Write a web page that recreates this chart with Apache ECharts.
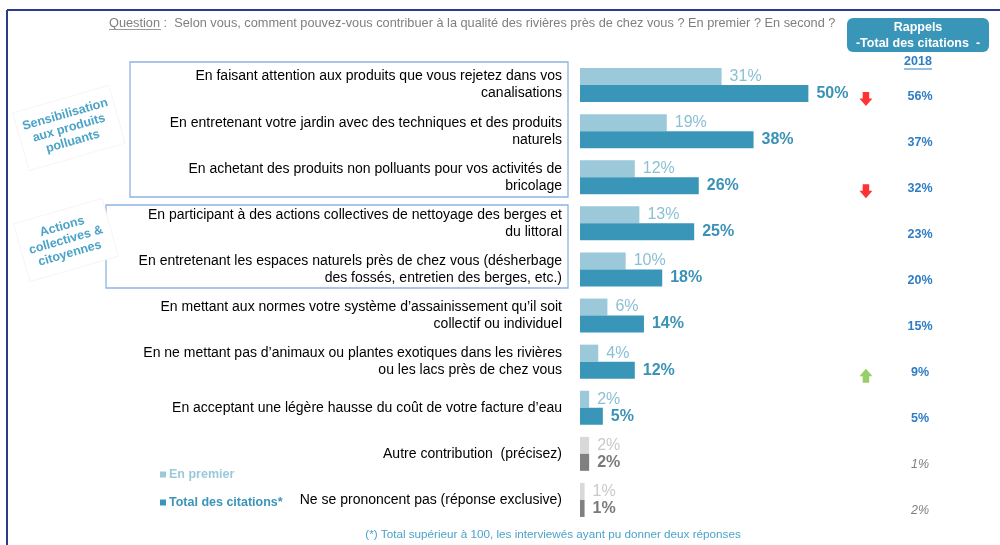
<!DOCTYPE html>
<html>
<head>
<meta charset="utf-8">
<script src="https://cdn.jsdelivr.net/npm/echarts@6/dist/echarts.min.js"></script>
<style>
html,body{margin:0;padding:0;background:#fff;}
#chart{width:1000px;height:545px;}
</style>
</head>
<body>
<div id="chart"></div>
<script>
const categories = [
  "En faisant attention aux produits que vous rejetez dans vos\ncanalisations",
  "En entretenant votre jardin avec des techniques et des produits\nnaturels",
  "En achetant des produits non polluants pour vos activités de\nbricolage",
  "En participant à des actions collectives de nettoyage des berges et\ndu littoral",
  "En entretenant les espaces naturels près de chez vous (désherbage\ndes fossés, entretien des berges, etc.)",
  "En mettant aux normes votre système d’assainissement qu’il soit\ncollectif ou individuel",
  "En ne mettant pas d’animaux ou plantes exotiques dans les rivières\nou les lacs près de chez vous",
  "En acceptant une légère hausse du coût de votre facture d’eau",
  "Autre contribution  (précisez)",
  "Ne se prononcent pas (réponse exclusive)"
];
const enPremier = [31, 19, 12, 13, 10, 6, 4, 2, 2, 1];
const totalCitations = [50, 38, 26, 25, 18, 14, 12, 5, 2, 1];
const rappels2018 = [56, 37, 32, 23, 20, 15, 9, 5, 1, 2];
const trend2018 = ["down", "", "down", "", "", "", "up", "", "", ""];
const otherCategories = ["Autre contribution  (précisez)", "Ne se prononcent pas (réponse exclusive)"];

const FONT = "'Liberation Sans', Arial, sans-serif";
const C_LIGHT = "#9bc9da", C_DARK = "#3a96b9";
const C_LIGHT_TXT = "#8bc0d4", C_DARK_TXT = "#3a92b5";
const G_LIGHT = "#d9d9d9", G_DARK = "#808080";
const isOther = i => otherCategories.indexOf(categories[i]) >= 0;

const premierData = enPremier.map((v, i) => ({
  value: v,
  itemStyle: { color: isOther(i) ? G_LIGHT : C_LIGHT },
  label: { color: isOther(i) ? "#c9c9c9" : C_LIGHT_TXT }
}));
const totalData = totalCitations.map((v, i) => ({
  value: v,
  itemStyle: { color: isOther(i) ? G_DARK : C_DARK },
  label: { color: isOther(i) ? "#7a7a7a" : C_DARK_TXT }
}));

const ARROW_X = 62.6;
const downPath = "path://M3,0 L9,0 L9,6 L12,6 L6,13 L0,6 L3,6 Z";
const upPath = "path://M6,0 L12,7 L9,7 L9,13 L3,13 L3,7 L0,7 Z";
const arrowData = [];
trend2018.forEach((t, i) => {
  if (t) arrowData.push({
    value: [ARROW_X, i],
    symbol: t === "down" ? downPath : upPath,
    itemStyle: { color: t === "down" ? "#ff0000" : "#7dc242" }
  });
});

const chart = echarts.init(document.getElementById("chart"), null, { renderer: "canvas" });

function groupLabel(cx, cy, text, w, h) {
  return [
    { type: "rect", x: cx, y: cy, rotation: 0.28,
      shape: { x: -w / 2, y: -h / 2, width: w, height: h },
      style: { fill: "#fff", stroke: "#f5f5f5", lineWidth: 1 }, z: 1 },
    { type: "text", x: cx, y: cy, rotation: 0.28,
      style: { text: text, fill: "#4ba3c8", font: "bold 12.5px " + FONT,
        align: "center", verticalAlign: "middle", lineHeight: 14 }, z: 2 }
  ];
}

const option = {
  animation: false,
  textStyle: { fontFamily: FONT },
  grid: { left: 580, right: 82, top: 62, bottom: 22, containLabel: false },
  xAxis: { type: "value", min: 0, max: 74, show: false },
  yAxis: [
    { type: "category", data: categories, inverse: true,
      axisLine: { show: false }, axisTick: { show: false }, splitLine: { show: false },
      axisLabel: { margin: 18, fontSize: 14, color: "#000", lineHeight: 17, fontFamily: FONT, align: "right" } },
    { type: "category", data: categories, inverse: true, position: "right",
      axisLine: { show: false }, axisTick: { show: false }, splitLine: { show: false },
      axisLabel: { margin: 2, align: "center", verticalAlign: "top",
        formatter: (v, i) => (isOther(i) ? "{g|" : "{b|") + rappels2018[i] + "%}",
        rich: {
          b: { color: "#2e7dc4", fontWeight: "bold", fontSize: 12.5, lineHeight: 22, fontFamily: FONT },
          g: { color: "#808080", fontStyle: "italic", fontSize: 12.5, lineHeight: 22, fontFamily: FONT }
        } } }
  ],
  legend: {
    orient: "vertical", left: 155, top: 463, itemGap: 15, itemWidth: 6, itemHeight: 6,
    icon: "rect", selectedMode: false,
    data: [
      { name: "En premier", textStyle: { color: C_LIGHT } },
      { name: "Total des citations*", textStyle: { color: C_DARK } }
    ],
    textStyle: { fontSize: 12.5, fontWeight: "bold", fontFamily: FONT, padding: [0, 0, 0, -2] }
  },
  series: [
    { name: "En premier", type: "bar", data: premierData, barWidth: 17, barGap: "0%",
      itemStyle: { color: C_LIGHT },
      label: { show: true, position: "right", distance: 8, fontSize: 16, fontFamily: FONT,
        formatter: "{c}%" } },
    { name: "Total des citations*", type: "bar", data: totalData, barWidth: 17, barGap: "0%",
      itemStyle: { color: C_DARK },
      label: { show: true, position: "right", distance: 8, fontSize: 16, fontWeight: "bold", fontFamily: FONT,
        formatter: "{c}%" } },
    { name: "tendance", type: "scatter", data: arrowData, symbolSize: [13, 14], symbolOffset: [0, 14],
      silent: true, z: 5 }
  ],
  graphic: [
    { type: "line", shape: { x1: 7, y1: 10, x2: 1000, y2: 10 }, style: { stroke: "#2b3990", lineWidth: 2 } },
    { type: "line", shape: { x1: 7, y1: 10, x2: 7, y2: 545 }, style: { stroke: "#2b3990", lineWidth: 2 } },
    { type: "text", x: 109, y: 23,
      style: { text: "Question :  Selon vous, comment pouvez-vous contribuer à la qualité des rivières près de chez vous ? En premier ? En second ?",
        fill: "#7f7f7f", font: "12.75px " + FONT, verticalAlign: "middle" } },
    { type: "line", shape: { x1: 109, y1: 29.5, x2: 161, y2: 29.5 }, style: { stroke: "#9a9a9a", lineWidth: 1 } },
    { type: "rect", shape: { x: 847, y: 18, width: 142, height: 34, r: 6 }, style: { fill: "#3a96b9" } },
    { type: "text", x: 918, y: 36,
      style: { text: "Rappels\n-Total des citations  -", fill: "#fff", font: "bold 12.5px " + FONT,
        align: "center", verticalAlign: "middle", lineHeight: 16 } },
    { type: "text", x: 918, y: 62,
      style: { text: "2018", fill: "#2e7dc4", font: "bold 12.5px " + FONT, align: "center", verticalAlign: "middle" } },
    { type: "line", shape: { x1: 904, y1: 69, x2: 932, y2: 69 }, style: { stroke: "#2e7dc4", lineWidth: 1 } },
    { type: "rect", shape: { x: 130, y: 62, width: 438, height: 135 }, style: { fill: "none", stroke: "#8db3e2", lineWidth: 1.3 } },
    { type: "rect", shape: { x: 106, y: 205, width: 462, height: 83 }, style: { fill: "none", stroke: "#8db3e2", lineWidth: 1.3 } },
    ...groupLabel(69, 128, "Sensibilisation\naux produits\npolluants", 100, 60),
    ...groupLabel(66, 240, "Actions\ncollectives &\ncitoyennes", 92, 60),
    { type: "text", x: 553, y: 535,
      style: { text: "(*) Total supérieur à 100, les interviewés ayant pu donner deux réponses",
        fill: "#4ba3c8", font: "11.7px " + FONT, align: "center", verticalAlign: "middle" } }
  ]
};
chart.setOption(option);
</script>
</body>
</html>
